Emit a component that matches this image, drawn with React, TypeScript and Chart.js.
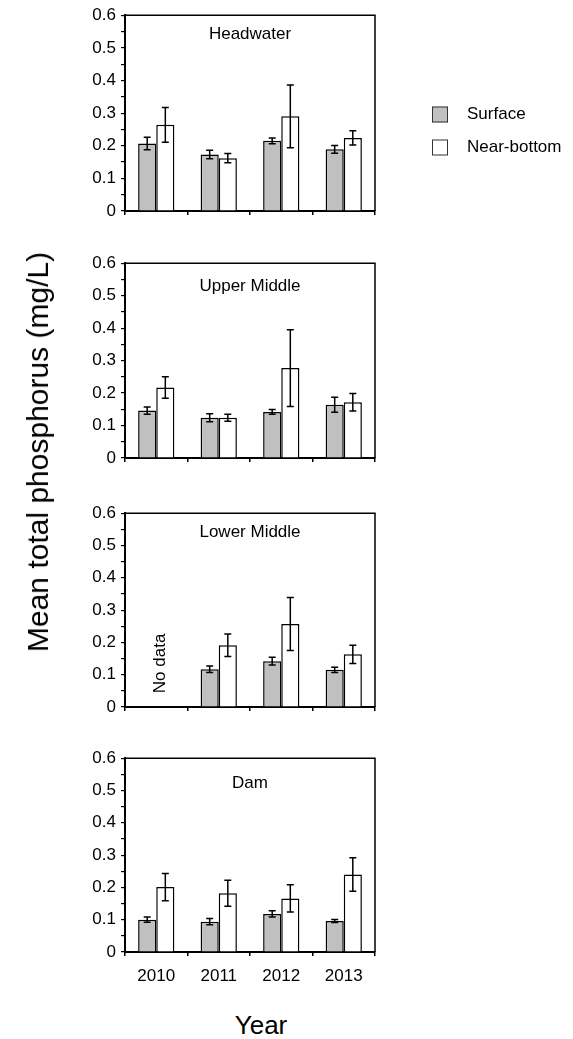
import React, { useEffect, useRef } from "react";
import { Chart, registerables } from "chart.js";

Chart.register(...registerables);

// ---------- data ----------
const years = ["2010", "2011", "2012", "2013"];
const seriesNames = ["Surface", "Near-bottom"];
const panelNames = ["Headwater", "Upper Middle", "Lower Middle", "Dam"];
const yAxisTitle = "Mean total phosphorus (mg/L)";
const xAxisTitle = "Year";
const noDataLabel = "No data";

const headwaterSurface = [0.207, 0.173, 0.215, 0.189];
const headwaterSurfaceErr = [0.019, 0.013, 0.009, 0.012];
const headwaterBottom = [0.264, 0.162, 0.29, 0.224];
const headwaterBottomErr = [0.053, 0.014, 0.096, 0.022];

const upperMiddleSurface = [0.146, 0.124, 0.142, 0.164];
const upperMiddleSurfaceErr = [0.011, 0.012, 0.007, 0.023];
const upperMiddleBottom = [0.217, 0.124, 0.277, 0.172];
const upperMiddleBottomErr = [0.033, 0.011, 0.118, 0.027];

const lowerMiddleSurface = [null, 0.117, 0.142, 0.115];
const lowerMiddleSurfaceErr = [null, 0.01, 0.012, 0.008];
const lowerMiddleBottom = [null, 0.191, 0.257, 0.163];
const lowerMiddleBottomErr = [null, 0.035, 0.082, 0.028];

const damSurface = [0.1, 0.094, 0.118, 0.096];
const damSurfaceErr = [0.008, 0.01, 0.01, 0.005];
const damBottom = [0.201, 0.182, 0.166, 0.24];
const damBottomErr = [0.042, 0.04, 0.042, 0.052];

const panelSurface = [headwaterSurface, upperMiddleSurface, lowerMiddleSurface, damSurface];
const panelSurfaceErr = [headwaterSurfaceErr, upperMiddleSurfaceErr, lowerMiddleSurfaceErr, damSurfaceErr];
const panelBottom = [headwaterBottom, upperMiddleBottom, lowerMiddleBottom, damBottom];
const panelBottomErr = [headwaterBottomErr, upperMiddleBottomErr, lowerMiddleBottomErr, damBottomErr];

// "No data" note: panel index, category index
const noDataPanel = 2;
const noDataCategory = 0;

// ---------- layout / style ----------
const FIG_W = 573;
const FIG_H = 1039;
const PLOT_LEFT = 125;
const PLOT_RIGHT = 375;
const PANEL_TOP = [15, 263, 513, 758];
const PANEL_BOTTOM = [211, 458, 707, 952];
const TITLE_DY = [19, 23, 19, 25];
const PAD_TOP = 15;
const XAXIS_H = 45;
const FONT = '"Liberation Sans", Arial, Helvetica, sans-serif';
const SMALL = 17;
const BIG = 26;
const YTITLE = 30;
const GRAY = "#c0c0c0";

const decorPlugin = {
  id: "decor",
  afterDatasetsDraw(chart: any) {
    const ctx = chart.ctx;
    const ys = chart.scales.y;
    const xs = chart.scales.x;
    const ca = chart.chartArea;
    const opts = chart.options.plugins.decor || {};
    // error bars
    chart.data.datasets.forEach((ds: any, d: number) => {
      const meta = chart.getDatasetMeta(d);
      meta.data.forEach((bar: any, k: number) => {
        const v = ds.data[k];
        const e = ds.errors ? ds.errors[k] : null;
        if (v == null || e == null) return;
        const x = bar.x;
        const yHi = ys.getPixelForValue(v + e);
        const yLo = ys.getPixelForValue(v - e);
        ctx.save();
        ctx.strokeStyle = "#000";
        ctx.lineWidth = 1.5;
        ctx.beginPath();
        ctx.moveTo(x, yHi);
        ctx.lineTo(x, yLo);
        ctx.moveTo(x - 3.5, yHi);
        ctx.lineTo(x + 3.5, yHi);
        ctx.moveTo(x - 3.5, yLo);
        ctx.lineTo(x + 3.5, yLo);
        ctx.stroke();
        ctx.restore();
      });
    });
    // frame (top + right)
    ctx.save();
    ctx.strokeStyle = "#000";
    ctx.lineWidth = 1.5;
    ctx.beginPath();
    ctx.moveTo(ca.left, ca.top);
    ctx.lineTo(ca.right, ca.top);
    ctx.lineTo(ca.right, ca.bottom);
    ctx.stroke();
    ctx.restore();
    // panel title
    ctx.save();
    ctx.fillStyle = "#000";
    ctx.font = `${SMALL}px ${FONT}`;
    ctx.textAlign = "center";
    ctx.textBaseline = "middle";
    ctx.fillText(opts.title, (ca.left + ca.right) / 2, ca.top + opts.titleDy);
    ctx.restore();
    // no data note
    if (opts.noData) {
      ctx.save();
      ctx.fillStyle = "#000";
      ctx.font = `${SMALL}px ${FONT}`;
      ctx.textAlign = "center";
      ctx.textBaseline = "middle";
      ctx.translate(xs.getPixelForValue(opts.noDataCategory) + 4, ys.getPixelForValue(0.135));
      ctx.rotate(-Math.PI / 2);
      ctx.fillText(opts.noDataText, 0, 0);
      ctx.restore();
    }
    // legend
    if (opts.legend) {
      const rows = [114.5, 147.5];
      chart.data.datasets.forEach((ds: any, d: number) => {
        const cy = rows[d];
        ctx.save();
        ctx.fillStyle = ds.backgroundColor;
        ctx.fillRect(432, cy - 8, 16, 16);
        ctx.strokeStyle = "#333";
        ctx.lineWidth = 1;
        ctx.strokeRect(432.5, cy - 7.5, 15, 15);
        ctx.fillStyle = "#000";
        ctx.font = `${SMALL}px ${FONT}`;
        ctx.textAlign = "left";
        ctx.textBaseline = "middle";
        ctx.fillText(ds.label, 467, cy);
        ctx.restore();
      });
    }
  },
};

function Panel({ index }: { index: number }) {
  const ref = useRef<HTMLCanvasElement | null>(null);
  const plotH = PANEL_BOTTOM[index] - PANEL_TOP[index];
  const h = PAD_TOP + plotH + XAXIS_H;
  const top = PANEL_TOP[index] - PAD_TOP;
  const showYears = index === panelNames.length - 1;

  useEffect(() => {
    if (!ref.current) return;
    const chart = new Chart(ref.current, {
      type: "bar",
      data: {
        labels: years,
        datasets: [
          {
            label: seriesNames[0],
            data: panelSurface[index],
            errors: panelSurfaceErr[index],
            backgroundColor: GRAY,
            borderColor: "#000",
            borderWidth: 1.5,
            categoryPercentage: 0.58,
            barPercentage: 1.0,
          } as any,
          {
            label: seriesNames[1],
            data: panelBottom[index],
            errors: panelBottomErr[index],
            backgroundColor: "#ffffff",
            borderColor: "#000",
            borderWidth: 1.5,
            categoryPercentage: 0.58,
            barPercentage: 1.0,
          } as any,
        ],
      },
      options: {
        animation: false,
        responsive: false,
        devicePixelRatio: 1,
        layout: { padding: { top: PAD_TOP, right: FIG_W - PLOT_RIGHT, left: 0, bottom: 0 } },
        plugins: {
          legend: { display: false },
          tooltip: { enabled: false },
          decor: {
            title: panelNames[index],
            titleDy: TITLE_DY[index],
            noData: index === noDataPanel,
            noDataCategory: noDataCategory,
            noDataText: noDataLabel,
            legend: index === 0,
          },
        } as any,
        scales: {
          x: {
            afterFit: (s: any) => {
              s.height = XAXIS_H;
            },
            grid: {
              offset: true,
              drawOnChartArea: false,
              drawTicks: true,
              tickLength: 4,
              color: "#000",
              lineWidth: 1.5,
            },
            border: { display: true, color: "#000", width: 2 },
            ticks: {
              color: "#000",
              font: { family: FONT, size: SMALL },
              padding: 10,
              maxRotation: 0,
              callback: (_v: any, i: number) => (showYears ? years[i] : ""),
            },
          },
          y: {
            min: 0,
            max: 0.6,
            afterFit: (s: any) => {
              s.width = PLOT_LEFT;
            },
            grid: {
              drawOnChartArea: false,
              drawTicks: true,
              tickLength: 4,
              color: "#000",
              lineWidth: 1.2,
            },
            border: { display: true, color: "#000", width: 2 },
            ticks: {
              stepSize: 0.05,
              color: "#000",
              font: { family: FONT, size: SMALL },
              padding: 5,
              autoSkip: false,
              callback: (v: any, i: number) =>
                i % 2 === 0 ? (Math.abs(v) < 1e-9 ? "0" : Number(v).toFixed(1)) : "",
            },
          },
        },
      },
      plugins: [decorPlugin],
    });
    return () => chart.destroy();
  }, [index]);

  return (
    <canvas
      ref={ref}
      width={FIG_W}
      height={h}
      style={{ position: "absolute", left: 0, top, width: FIG_W, height: h }}
    />
  );
}

export default function App() {
  return (
    <div
      style={{
        position: "absolute",
        left: 0,
        top: 0,
        width: FIG_W,
        height: FIG_H,
        background: "#fff",
        overflow: "hidden",
        fontFamily: FONT,
      }}
    >
      {panelNames.map((_, i) => (
        <Panel key={i} index={i} />
      ))}
      <div
        style={{
          position: "absolute",
          left: 38,
          top: 452,
          transform: "translate(-50%, -50%) rotate(-90deg)",
          whiteSpace: "nowrap",
          fontSize: YTITLE,
          lineHeight: 1,
          color: "#000",
        }}
      >
        {yAxisTitle}
      </div>
      <div
        style={{
          position: "absolute",
          left: 261,
          top: 1025,
          transform: "translate(-50%, -50%)",
          whiteSpace: "nowrap",
          fontSize: BIG,
          lineHeight: 1,
          color: "#000",
        }}
      >
        {xAxisTitle}
      </div>
    </div>
  );
}
